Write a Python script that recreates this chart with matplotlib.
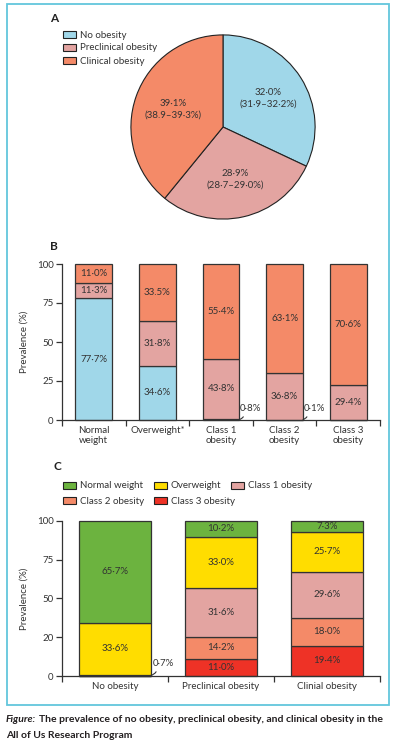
import matplotlib
matplotlib.use("Agg")
import matplotlib.pyplot as plt
from matplotlib.patches import Rectangle, Patch
import numpy as np

plt.rcParams["font.family"] = ["Lato", "DejaVu Sans"]
plt.rcParams["font.size"] = 7

# ---- data ----
pie_labels = ["No obesity", "Preclinical obesity", "Clinical obesity"]
pie_values = [32.0, 28.9, 39.1]
pie_texts = ["32·0%\n(31·9–32·2%)", "28·9%\n(28·7–29·0%)", "39·1%\n(38.9–39·3%)"]

b_groups = ["Normal\nweight", "Overweight*", "Class 1\nobesity", "Class 2\nobesity", "Class 3\nobesity"]
# segment heights as drawn in the bars
b_no = [78.2, 34.7, 0.8, 0.1, 0.0]
b_pre = [9.6, 28.9, 38.6, 29.9, 22.3]
b_clin = [12.2, 36.4, 60.6, 70.0, 77.7]
# printed labels
b_no_lab = ["77·7%", "34·6%", "0·8%", "0·1%", ""]
b_pre_lab = ["11·3%", "31·8%", "43·8%", "36·8%", "29·4%"]
b_clin_lab = ["11·0%", "33.5%", "55·4%", "63·1%", "70·6%"]

c_groups = ["No obesity", "Preclinical obesity", "Clinial obesity"]
c_class3 = [0.0, 11.0, 19.4]
c_class2 = [0.0, 14.2, 18.0]
c_class1 = [0.7, 31.6, 29.6]
c_over = [33.6, 33.0, 25.7]
c_normal = [65.7, 10.2, 7.3]
c_ticklabels = ["0", "20", "50", "75", "100"]

BLUE = "#a0d7e9"
PINK = "#e3a4a1"
ORANGE = "#f48a68"
GREEN = "#6cb33f"
YELLOW = "#ffdd00"
RED = "#ee3226"
EDGE = "#333333"
TXT = "#333333"

W, H = 396, 742
fig = plt.figure(figsize=(W / 100, H / 100), dpi=100)


def px_axes(x0, y0, x1, y1):
    return fig.add_axes([x0 / W, 1 - y1 / H, (x1 - x0) / W, (y1 - y0) / H])


def legend_item(handle, label, x, y):
    leg = fig.legend([handle], [label], loc="center left", bbox_to_anchor=(x / W, 1 - y / H),
                     frameon=False, handlelength=1.3, handleheight=0.75, handletextpad=0.4,
                     fontsize=7, borderpad=0, borderaxespad=0, labelcolor=TXT)
    return leg


# border box
fig.patches.append(Rectangle((6.5 / W, 1 - 705 / H), 382 / W, 701 / H,
                             transform=fig.transFigure, fill=False,
                             edgecolor="#62c6dc", lw=1.3))

# ---- panel A ----
fig.text(50 / W, 1 - 18 / H, "A", fontsize=8.5, fontweight="bold", va="center", color="#222222")
axp = px_axes(130, 34, 316, 220)
wedges, _ = axp.pie(pie_values, colors=[BLUE, PINK, ORANGE], startangle=90, counterclock=False,
                    wedgeprops=dict(edgecolor="#222222", linewidth=0.8))
axp.set_xlim(-1.01, 1.01)
axp.set_ylim(-1.01, 1.01)
axp.set_aspect("equal")
for w, t in zip(wedges, pie_texts):
    ang = np.deg2rad((w.theta1 + w.theta2) / 2)
    axp.text(0.58 * np.cos(ang), 0.58 * np.sin(ang), t, ha="center", va="center",
             fontsize=7, color=TXT, linespacing=1.3)
for k, (lab, col) in enumerate(zip(pie_labels, [BLUE, PINK, ORANGE])):
    legend_item(Patch(facecolor=col, edgecolor="#222222", lw=0.8), lab, 63, 35 + 13 * k)


def style_axes(ax, ncat):
    for s in ["top", "right"]:
        ax.spines[s].set_visible(False)
    for s in ["left", "bottom"]:
        ax.spines[s].set_color(EDGE)
        ax.spines[s].set_linewidth(0.9)
    ax.set_ylim(0, 100)
    ax.set_xlim(-0.5, ncat - 0.5)
    ax.set_yticks([0, 25, 50, 75, 100])
    ax.set_xticks(np.arange(ncat + 1) - 0.5)
    ax.set_xticklabels([])
    ax.set_xticks(np.arange(ncat), minor=True)
    ax.tick_params(axis="x", which="minor", length=0, pad=4, labelsize=7, labelcolor=TXT)
    ax.tick_params(axis="both", which="major", direction="out", length=4, width=0.9,
                   color=EDGE, labelsize=7, labelcolor=TXT, pad=2)
    ax.set_ylabel("Prevalence (%)", fontsize=7, color=TXT, labelpad=6)


def leader(ax, text, xy, xytext):
    ax.annotate(text, xy=xy, xytext=xytext, ha="center", va="center", fontsize=7, color=TXT,
                annotation_clip=False,
                arrowprops=dict(arrowstyle="-", color=EDGE, lw=0.8, relpos=(0.2, 0.0),
                                connectionstyle="arc3,rad=-0.35", shrinkA=1, shrinkB=0))


# ---- panel B ----
fig.text(50 / W, 1 - 247 / H, "B", fontsize=8.5, fontweight="bold", va="center", color="#222222")
axb = px_axes(62, 264, 380, 420)
xb = np.arange(len(b_groups))
bw = 0.58
bottom = np.zeros(len(b_groups))
for vals, labs, col in [(b_no, b_no_lab, BLUE), (b_pre, b_pre_lab, PINK), (b_clin, b_clin_lab, ORANGE)]:
    vals = np.array(vals)
    axb.bar(xb, vals, bw, bottom=bottom, color=col, edgecolor=EDGE, linewidth=0.9, clip_on=False)
    for i in range(len(xb)):
        if vals[i] >= 5:
            axb.text(xb[i], bottom[i] + vals[i] / 2, labs[i], ha="center", va="center",
                     fontsize=7, color=TXT)
    bottom += vals
for i in [2, 3]:
    leader(axb, b_no_lab[i], (xb[i] + bw / 2, 0.3), (xb[i] + 0.47, 7.5))
style_axes(axb, len(b_groups))
axb.set_xticklabels(b_groups, minor=True)

# ---- panel C ----
fig.text(53 / W, 1 - 467 / H, "C", fontsize=8.5, fontweight="bold", va="center", color="#222222")
axc = px_axes(62, 520.7, 380, 676)
xc = np.arange(len(c_groups))
cw = 0.67
bottom = np.zeros(len(c_groups))
c_series = [("Class 3 obesity", c_class3, RED), ("Class 2 obesity", c_class2, ORANGE),
            ("Class 1 obesity", c_class1, PINK), ("Overweight", c_over, YELLOW),
            ("Normal weight", c_normal, GREEN)]
handles = {}
for name, vals, col in c_series:
    vals = np.array(vals)
    axc.bar(xc, vals, cw, bottom=bottom, color=col, edgecolor=EDGE, linewidth=0.9, clip_on=False)
    for i in range(len(xc)):
        if vals[i] >= 5:
            axc.text(xc[i], bottom[i] + vals[i] / 2, f"{vals[i]:.1f}%".replace(".", "·"),
                     ha="center", va="center", fontsize=7, color=TXT)
    handles[name] = Patch(facecolor=col, edgecolor="#222222", lw=0.8)
    bottom += vals
leader(axc, "0·7%", (xc[0] + cw / 2, 0.3), (xc[0] + 0.46, 8.2))
style_axes(axc, len(c_groups))
axc.set_yticklabels(c_ticklabels)
axc.set_xticklabels(c_groups, minor=True)

c_legend_pos = {"Normal weight": (63, 486), "Overweight": (154, 486), "Class 1 obesity": (231, 486),
                "Class 2 obesity": (63, 501), "Class 3 obesity": (154, 501)}
for name, (lx, ly) in c_legend_pos.items():
    legend_item(handles[name], name, lx, ly)

# ---- caption ----
cap1 = fig.text(6 / W, 1 - 720 / H, "Figure:", fontsize=7.5, fontweight="bold", style="italic",
                va="center", color="#231f20")
renderer = fig.canvas.get_renderer()
bb = cap1.get_window_extent(renderer)
fig.text(bb.x1 / W + 3 / W, 1 - 720 / H,
         "The prevalence of no obesity, preclinical obesity, and clinical obesity in the",
         fontsize=7.5, fontweight="bold", va="center", color="#231f20")
fig.text(6 / W, 1 - 735 / H, "All of Us Research Program", fontsize=7.5, fontweight="bold",
         va="center", color="#231f20")

fig.savefig("out.png", dpi=100)
